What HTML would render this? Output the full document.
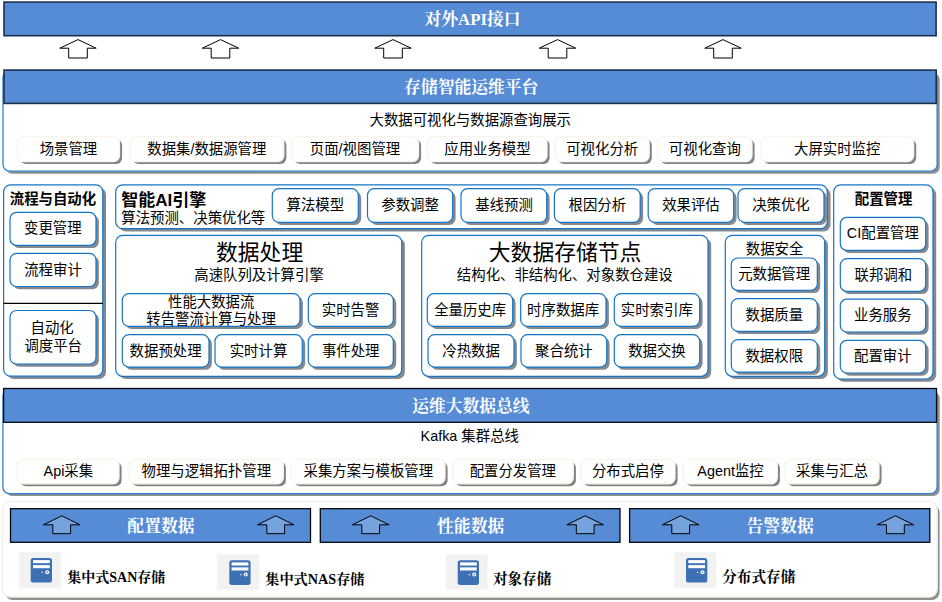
<!DOCTYPE html>
<html lang="zh-CN"><head><meta charset="utf-8"><title>存储智能运维平台架构</title>
<style>
html,body{margin:0;padding:0;background:#fff}
body{width:942px;height:602px;overflow:hidden;font-family:"Liberation Sans","Noto Sans CJK SC",sans-serif}
#d{position:relative;width:942px;height:602px;overflow:hidden}
#d svg{position:absolute;left:0;top:0;display:block}
text.s{font-family:"Liberation Sans","Noto Sans CJK SC",sans-serif;font-size:14.4px;fill:#000}
text.sb{font-family:"Liberation Sans","Noto Sans CJK SC",sans-serif;font-size:14.4px;font-weight:bold;fill:#000}
text.h{font-family:"Liberation Serif","Noto Serif CJK SC",serif;font-size:16.8px;font-weight:bold;fill:#fff}
text.b{font-family:"Liberation Serif","Noto Serif CJK SC",serif;font-weight:bold;fill:#000}
text.l{font-family:"Liberation Sans","Noto Sans CJK SC",sans-serif;font-size:21.8px;fill:#000}
</style></head><body>
<div id="d">
<svg width="942" height="602" viewBox="0 0 942 602">
<rect x="4.00" y="2.10" width="932.10" height="33.60" fill="#558cd5" stroke="#1c2f4d" stroke-width="1.6"/>
<text class="h" x="424.55" y="24.58">对外API接口</text>
<polygon points="78.00,39.60 96.20,48.20 87.30,48.20 87.30,58.00 68.70,58.00 68.70,48.20 59.80,48.20" fill="#fff" stroke="#000" stroke-width="1.00" stroke-linejoin="miter"/>
<polygon points="220.50,39.60 238.70,48.20 229.80,48.20 229.80,58.00 211.20,58.00 211.20,48.20 202.30,48.20" fill="#fff" stroke="#000" stroke-width="1.00" stroke-linejoin="miter"/>
<polygon points="393.00,39.60 411.20,48.20 402.30,48.20 402.30,58.00 383.70,58.00 383.70,48.20 374.80,48.20" fill="#fff" stroke="#000" stroke-width="1.00" stroke-linejoin="miter"/>
<polygon points="557.50,39.60 575.70,48.20 566.80,48.20 566.80,58.00 548.20,58.00 548.20,48.20 539.30,48.20" fill="#fff" stroke="#000" stroke-width="1.00" stroke-linejoin="miter"/>
<polygon points="723.00,39.60 741.20,48.20 732.30,48.20 732.30,58.00 713.70,58.00 713.70,48.20 704.80,48.20" fill="#fff" stroke="#000" stroke-width="1.00" stroke-linejoin="miter"/>
<rect x="5.60" y="73.00" width="934.10" height="100.70" rx="6.5" fill="#8f8f8f"/>
<rect x="3.00" y="70.50" width="934.10" height="100.70" rx="6.5" fill="#fff" stroke="#2f83cf" stroke-width="1.30"/>
<rect x="4.00" y="70.10" width="932.20" height="33.30" fill="#558cd5" stroke="#1c2f4d" stroke-width="1.6"/>
<text class="h" x="404.11" y="92.68">存储智能运维平台</text>
<text class="s" x="369.52" y="125.24">大数据可视化与数据源查询展示</text>
<rect x="20.10" y="139.20" width="102.00" height="24.90" rx="6.0" fill="#838383"/>
<rect x="17.50" y="136.70" width="102.00" height="24.90" rx="6.0" fill="#fff" stroke="#f7f5ec" stroke-width="1.30"/>
<text class="s" x="39.68" y="153.79">场景管理</text>
<rect x="132.60" y="139.20" width="153.80" height="24.90" rx="6.0" fill="#838383"/>
<rect x="130.00" y="136.70" width="153.80" height="24.90" rx="6.0" fill="#fff" stroke="#f7f5ec" stroke-width="1.30"/>
<text class="s" x="147.26" y="153.79">数据集/数据源管理</text>
<rect x="294.40" y="139.20" width="126.70" height="24.90" rx="6.0" fill="#838383"/>
<rect x="291.80" y="136.70" width="126.70" height="24.90" rx="6.0" fill="#fff" stroke="#f7f5ec" stroke-width="1.30"/>
<text class="s" x="309.83" y="153.79">页面/视图管理</text>
<rect x="430.30" y="139.20" width="119.30" height="24.90" rx="6.0" fill="#838383"/>
<rect x="427.70" y="136.70" width="119.30" height="24.90" rx="6.0" fill="#fff" stroke="#f7f5ec" stroke-width="1.30"/>
<text class="s" x="444.24" y="153.79">应用业务模型</text>
<rect x="558.00" y="139.20" width="93.80" height="24.90" rx="6.0" fill="#838383"/>
<rect x="555.40" y="136.70" width="93.80" height="24.90" rx="6.0" fill="#fff" stroke="#f7f5ec" stroke-width="1.30"/>
<text class="s" x="566.21" y="153.79">可视化分析</text>
<rect x="660.30" y="139.20" width="94.30" height="24.90" rx="6.0" fill="#838383"/>
<rect x="657.70" y="136.70" width="94.30" height="24.90" rx="6.0" fill="#fff" stroke="#f7f5ec" stroke-width="1.30"/>
<text class="s" x="668.87" y="153.79">可视化查询</text>
<rect x="763.60" y="139.20" width="152.60" height="24.90" rx="6.0" fill="#838383"/>
<rect x="761.00" y="136.70" width="152.60" height="24.90" rx="6.0" fill="#fff" stroke="#f7f5ec" stroke-width="1.30"/>
<text class="s" x="794.05" y="153.79">大屏实时监控</text>
<rect x="6.80" y="187.60" width="99.20" height="191.40" rx="7.0" fill="#85888e"/>
<rect x="3.60" y="184.80" width="99.20" height="191.40" rx="7.0" fill="#fff" stroke="#1475c6" stroke-width="1.20"/>
<text class="sb" x="9.78" y="203.57">流程与自动化</text>
<rect x="12.90" y="215.00" width="86.00" height="33.10" rx="6.5" fill="#85888e"/>
<rect x="10.00" y="212.30" width="86.00" height="33.10" rx="6.5" fill="#fff" stroke="#1475c6" stroke-width="1.20"/>
<text class="s" x="24.06" y="233.49">变更管理</text>
<rect x="12.90" y="256.10" width="86.00" height="33.10" rx="6.5" fill="#85888e"/>
<rect x="10.00" y="253.40" width="86.00" height="33.10" rx="6.5" fill="#fff" stroke="#1475c6" stroke-width="1.20"/>
<text class="s" x="24.21" y="274.59">流程审计</text>
<line x1="3.6" y1="303.4" x2="102.8" y2="303.4" stroke="#000" stroke-width="1.1"/>
<rect x="12.90" y="313.20" width="86.00" height="53.50" rx="6.5" fill="#85888e"/>
<rect x="10.00" y="310.50" width="86.00" height="53.50" rx="6.5" fill="#fff" stroke="#1475c6" stroke-width="1.20"/>
<text class="s" x="30.50" y="332.84">自动化</text>
<text class="s" x="24.43" y="350.84">调度平台</text>
<rect x="118.90" y="187.60" width="711.60" height="43.90" rx="7.0" fill="#85888e"/>
<rect x="115.70" y="184.80" width="711.60" height="43.90" rx="7.0" fill="#fff" stroke="#1475c6" stroke-width="1.20"/>
<text class="sb" x="121.30" y="206.00" style="font-size:17px">智能AI引擎</text>
<text class="s" x="121.30" y="222.84">算法预测、决策优化等</text>
<rect x="275.20" y="191.40" width="86.00" height="33.60" rx="6.5" fill="#85888e"/>
<rect x="272.30" y="188.70" width="86.00" height="33.60" rx="6.5" fill="#fff" stroke="#1475c6" stroke-width="1.20"/>
<text class="s" x="286.59" y="210.14">算法模型</text>
<rect x="370.40" y="191.40" width="85.20" height="33.60" rx="6.5" fill="#85888e"/>
<rect x="367.50" y="188.70" width="85.20" height="33.60" rx="6.5" fill="#fff" stroke="#1475c6" stroke-width="1.20"/>
<text class="s" x="381.29" y="210.14">参数调整</text>
<rect x="463.90" y="191.40" width="85.70" height="33.60" rx="6.5" fill="#85888e"/>
<rect x="461.00" y="188.70" width="85.70" height="33.60" rx="6.5" fill="#fff" stroke="#1475c6" stroke-width="1.20"/>
<text class="s" x="475.30" y="210.14">基线预测</text>
<rect x="557.30" y="191.40" width="85.80" height="33.60" rx="6.5" fill="#85888e"/>
<rect x="554.40" y="188.70" width="85.80" height="33.60" rx="6.5" fill="#fff" stroke="#1475c6" stroke-width="1.20"/>
<text class="s" x="568.56" y="210.14">根因分析</text>
<rect x="651.10" y="191.40" width="85.50" height="33.60" rx="6.5" fill="#85888e"/>
<rect x="648.20" y="188.70" width="85.50" height="33.60" rx="6.5" fill="#fff" stroke="#1475c6" stroke-width="1.20"/>
<text class="s" x="662.19" y="210.14">效果评估</text>
<rect x="740.90" y="191.40" width="86.00" height="33.60" rx="6.5" fill="#85888e"/>
<rect x="738.00" y="188.70" width="86.00" height="33.60" rx="6.5" fill="#fff" stroke="#1475c6" stroke-width="1.20"/>
<text class="s" x="752.20" y="210.14">决策优化</text>
<rect x="118.90" y="238.10" width="286.00" height="141.00" rx="7.0" fill="#85888e"/>
<rect x="115.70" y="235.30" width="286.00" height="141.00" rx="7.0" fill="#fff" stroke="#1475c6" stroke-width="1.20"/>
<text class="l" x="216.02" y="259.98">数据处理</text>
<text class="s" x="194.26" y="280.44">高速队列及计算引擎</text>
<rect x="125.20" y="296.40" width="177.70" height="32.60" rx="6.5" fill="#85888e"/>
<rect x="122.30" y="293.70" width="177.70" height="32.60" rx="6.5" fill="#fff" stroke="#1475c6" stroke-width="1.20"/>
<text class="s" x="168.01" y="306.84">性能大数据流</text>
<text class="s" x="146.30" y="324.24">转告警流计算与处理</text>
<rect x="311.20" y="296.40" width="85.00" height="32.60" rx="6.5" fill="#85888e"/>
<rect x="308.30" y="293.70" width="85.00" height="32.60" rx="6.5" fill="#fff" stroke="#1475c6" stroke-width="1.20"/>
<text class="s" x="321.77" y="314.64">实时告警</text>
<rect x="125.20" y="337.40" width="86.70" height="32.40" rx="6.5" fill="#85888e"/>
<rect x="122.30" y="334.70" width="86.70" height="32.40" rx="6.5" fill="#fff" stroke="#1475c6" stroke-width="1.20"/>
<text class="s" x="129.61" y="355.54">数据预处理</text>
<rect x="217.90" y="337.40" width="87.30" height="32.40" rx="6.5" fill="#85888e"/>
<rect x="215.00" y="334.70" width="87.30" height="32.40" rx="6.5" fill="#fff" stroke="#1475c6" stroke-width="1.20"/>
<text class="s" x="229.71" y="355.54">实时计算</text>
<rect x="311.20" y="337.40" width="85.00" height="32.40" rx="6.5" fill="#85888e"/>
<rect x="308.30" y="334.70" width="85.00" height="32.40" rx="6.5" fill="#fff" stroke="#1475c6" stroke-width="1.20"/>
<text class="s" x="321.89" y="355.54">事件处理</text>
<rect x="424.90" y="238.10" width="286.30" height="141.00" rx="7.0" fill="#85888e"/>
<rect x="421.70" y="235.30" width="286.30" height="141.00" rx="7.0" fill="#fff" stroke="#1475c6" stroke-width="1.20"/>
<text class="l" x="488.79" y="260.18">大数据存储节点</text>
<text class="s" x="456.85" y="280.44">结构化、非结构化、对象数仓建设</text>
<rect x="430.20" y="296.40" width="85.40" height="32.60" rx="6.5" fill="#85888e"/>
<rect x="427.30" y="293.70" width="85.40" height="32.60" rx="6.5" fill="#fff" stroke="#1475c6" stroke-width="1.20"/>
<text class="s" x="434.14" y="314.64">全量历史库</text>
<rect x="523.60" y="296.40" width="85.30" height="32.60" rx="6.5" fill="#85888e"/>
<rect x="520.70" y="293.70" width="85.30" height="32.60" rx="6.5" fill="#fff" stroke="#1475c6" stroke-width="1.20"/>
<text class="s" x="527.10" y="314.64">时序数据库</text>
<rect x="617.20" y="296.40" width="85.40" height="32.60" rx="6.5" fill="#85888e"/>
<rect x="614.30" y="293.70" width="85.40" height="32.60" rx="6.5" fill="#fff" stroke="#1475c6" stroke-width="1.20"/>
<text class="s" x="620.82" y="314.64">实时索引库</text>
<rect x="430.90" y="337.40" width="86.00" height="32.40" rx="6.5" fill="#85888e"/>
<rect x="428.00" y="334.70" width="86.00" height="32.40" rx="6.5" fill="#fff" stroke="#1475c6" stroke-width="1.20"/>
<text class="s" x="442.24" y="355.54">冷热数据</text>
<rect x="523.90" y="337.40" width="85.70" height="32.40" rx="6.5" fill="#85888e"/>
<rect x="521.00" y="334.70" width="85.70" height="32.40" rx="6.5" fill="#fff" stroke="#1475c6" stroke-width="1.20"/>
<text class="s" x="535.11" y="355.54">聚合统计</text>
<rect x="617.20" y="337.40" width="85.40" height="32.40" rx="6.5" fill="#85888e"/>
<rect x="614.30" y="334.70" width="85.40" height="32.40" rx="6.5" fill="#fff" stroke="#1475c6" stroke-width="1.20"/>
<text class="s" x="628.14" y="355.54">数据交换</text>
<rect x="728.50" y="238.10" width="99.40" height="141.00" rx="7.0" fill="#85888e"/>
<rect x="725.30" y="235.30" width="99.40" height="141.00" rx="7.0" fill="#fff" stroke="#1475c6" stroke-width="1.20"/>
<text class="s" x="745.78" y="253.84">数据安全</text>
<rect x="734.20" y="260.70" width="86.00" height="32.40" rx="6.5" fill="#85888e"/>
<rect x="731.30" y="258.00" width="86.00" height="32.40" rx="6.5" fill="#fff" stroke="#1475c6" stroke-width="1.20"/>
<text class="s" x="738.19" y="278.84">元数据管理</text>
<rect x="734.20" y="301.40" width="86.00" height="32.60" rx="6.5" fill="#85888e"/>
<rect x="731.30" y="298.70" width="86.00" height="32.60" rx="6.5" fill="#fff" stroke="#1475c6" stroke-width="1.20"/>
<text class="s" x="745.54" y="319.64">数据质量</text>
<rect x="734.20" y="342.40" width="86.00" height="32.40" rx="6.5" fill="#85888e"/>
<rect x="731.30" y="339.70" width="86.00" height="32.40" rx="6.5" fill="#fff" stroke="#1475c6" stroke-width="1.20"/>
<text class="s" x="745.47" y="360.54">数据权限</text>
<rect x="836.90" y="187.60" width="99.30" height="194.20" rx="7.0" fill="#85888e"/>
<rect x="833.70" y="184.80" width="99.30" height="194.20" rx="7.0" fill="#fff" stroke="#1475c6" stroke-width="1.20"/>
<text class="sb" x="854.78" y="203.77">配置管理</text>
<rect x="843.20" y="220.00" width="85.40" height="33.10" rx="6.5" fill="#85888e"/>
<rect x="840.30" y="217.30" width="85.40" height="33.10" rx="6.5" fill="#fff" stroke="#1475c6" stroke-width="1.20"/>
<text class="s" x="846.87" y="238.49">CI配置管理</text>
<rect x="843.20" y="261.40" width="85.40" height="32.70" rx="6.5" fill="#85888e"/>
<rect x="840.30" y="258.70" width="85.40" height="32.70" rx="6.5" fill="#fff" stroke="#1475c6" stroke-width="1.20"/>
<text class="s" x="854.62" y="279.69">联邦调和</text>
<rect x="843.20" y="301.80" width="85.40" height="32.90" rx="6.5" fill="#85888e"/>
<rect x="840.30" y="299.10" width="85.40" height="32.90" rx="6.5" fill="#fff" stroke="#1475c6" stroke-width="1.20"/>
<text class="s" x="854.05" y="320.19">业务服务</text>
<rect x="843.20" y="343.00" width="85.40" height="32.70" rx="6.5" fill="#85888e"/>
<rect x="840.30" y="340.30" width="85.40" height="32.70" rx="6.5" fill="#fff" stroke="#1475c6" stroke-width="1.20"/>
<text class="s" x="854.08" y="361.29">配置审计</text>
<rect x="5.50" y="391.80" width="934.20" height="104.20" rx="6.5" fill="#8f8f8f"/>
<rect x="2.90" y="389.40" width="934.20" height="104.20" rx="6.5" fill="#fff" stroke="#2f83cf" stroke-width="1.30"/>
<rect x="3.60" y="388.50" width="932.90" height="33.80" fill="#558cd5" stroke="#05080f" stroke-width="1.3"/>
<text class="h" x="412.13" y="411.58">运维大数据总线</text>
<text class="s" x="420.56" y="440.94">Kafka 集群总线</text>
<rect x="19.90" y="461.80" width="101.70" height="24.50" rx="6.0" fill="#838383"/>
<rect x="17.30" y="459.30" width="101.70" height="24.50" rx="6.0" fill="#fff" stroke="#f7f5ec" stroke-width="1.30"/>
<text class="s" x="43.56" y="476.19">Api采集</text>
<rect x="131.90" y="461.80" width="154.00" height="24.50" rx="6.0" fill="#838383"/>
<rect x="129.30" y="459.30" width="154.00" height="24.50" rx="6.0" fill="#fff" stroke="#f7f5ec" stroke-width="1.30"/>
<text class="s" x="141.53" y="476.19">物理与逻辑拓扑管理</text>
<rect x="294.30" y="461.80" width="153.30" height="24.50" rx="6.0" fill="#838383"/>
<rect x="291.70" y="459.30" width="153.30" height="24.50" rx="6.0" fill="#fff" stroke="#f7f5ec" stroke-width="1.30"/>
<text class="s" x="303.54" y="476.19">采集方案与模板管理</text>
<rect x="455.30" y="461.80" width="120.60" height="24.50" rx="6.0" fill="#838383"/>
<rect x="452.70" y="459.30" width="120.60" height="24.50" rx="6.0" fill="#fff" stroke="#f7f5ec" stroke-width="1.30"/>
<text class="s" x="469.63" y="476.19">配置分发管理</text>
<rect x="583.30" y="461.80" width="94.30" height="24.50" rx="6.0" fill="#838383"/>
<rect x="580.70" y="459.30" width="94.30" height="24.50" rx="6.0" fill="#fff" stroke="#f7f5ec" stroke-width="1.30"/>
<text class="s" x="591.89" y="476.19">分布式启停</text>
<rect x="685.90" y="461.80" width="94.00" height="24.50" rx="6.0" fill="#838383"/>
<rect x="683.30" y="459.30" width="94.00" height="24.50" rx="6.0" fill="#fff" stroke="#f7f5ec" stroke-width="1.30"/>
<text class="s" x="697.33" y="476.19">Agent监控</text>
<rect x="787.60" y="461.80" width="94.00" height="24.50" rx="6.0" fill="#838383"/>
<rect x="785.00" y="459.30" width="94.00" height="24.50" rx="6.0" fill="#fff" stroke="#f7f5ec" stroke-width="1.30"/>
<text class="s" x="796.06" y="476.19">采集与汇总</text>
<rect x="4.90" y="504.60" width="934.70" height="95.40" rx="8.0" fill="#8f8f8f"/>
<rect x="2.50" y="501.60" width="934.70" height="95.40" rx="8.0" fill="#fff" stroke="#f3f0e8" stroke-width="1.50"/>
<rect x="10.50" y="508.70" width="300.00" height="33.60" fill="#558cd5" stroke="#05080f" stroke-width="1.3"/>
<text class="h" x="127.37" y="531.78">配置数据</text>
<polygon points="61.70,515.80 80.00,524.80 70.60,524.80 70.60,533.70 52.80,533.70 52.80,524.80 43.40,524.80" fill="#74a3de" stroke="#000" stroke-width="1.00" stroke-linejoin="miter"/>
<polygon points="275.70,515.80 294.00,524.80 284.60,524.80 284.60,533.70 266.80,533.70 266.80,524.80 257.40,524.80" fill="#74a3de" stroke="#000" stroke-width="1.00" stroke-linejoin="miter"/>
<rect x="320.30" y="508.70" width="299.70" height="33.60" fill="#558cd5" stroke="#05080f" stroke-width="1.3"/>
<text class="h" x="437.08" y="531.78">性能数据</text>
<polygon points="370.70,515.80 389.00,524.80 379.60,524.80 379.60,533.70 361.80,533.70 361.80,524.80 352.40,524.80" fill="#74a3de" stroke="#000" stroke-width="1.00" stroke-linejoin="miter"/>
<polygon points="585.20,515.80 603.50,524.80 594.10,524.80 594.10,533.70 576.30,533.70 576.30,524.80 566.90,524.80" fill="#74a3de" stroke="#000" stroke-width="1.00" stroke-linejoin="miter"/>
<rect x="629.60" y="508.70" width="300.20" height="33.60" fill="#558cd5" stroke="#05080f" stroke-width="1.3"/>
<text class="h" x="746.54" y="531.78">告警数据</text>
<polygon points="680.70,515.80 699.00,524.80 689.60,524.80 689.60,533.70 671.80,533.70 671.80,524.80 662.40,524.80" fill="#74a3de" stroke="#000" stroke-width="1.00" stroke-linejoin="miter"/>
<polygon points="895.40,515.80 913.70,524.80 904.30,524.80 904.30,533.70 886.50,533.70 886.50,524.80 877.10,524.80" fill="#74a3de" stroke="#000" stroke-width="1.00" stroke-linejoin="miter"/>
<rect x="19.0" y="552.2" width="42" height="35.4" fill="#f2f2f2"/>
<rect x="30.7" y="558.0" width="21.3" height="24.6" rx="2.6" fill="#3e70b4"/>
<rect x="33.0" y="560.1" width="16.8" height="3.1" fill="#fff"/>
<rect x="33.0" y="565.1" width="16.8" height="3.1" fill="#fff"/>
<circle cx="42.3" cy="572.3" r="0.8" fill="#dfe8f4"/>
<circle cx="47.2" cy="572.3" r="2" fill="#fff"/>
<circle cx="47.2" cy="572.3" r="0.8" fill="#3e70b4"/>
<rect x="217.3" y="554.3" width="42" height="35.4" fill="#f2f2f2"/>
<rect x="229.3" y="560.3" width="21.3" height="24.6" rx="2.6" fill="#3e70b4"/>
<rect x="231.6" y="562.4" width="16.8" height="3.1" fill="#fff"/>
<rect x="231.6" y="567.4" width="16.8" height="3.1" fill="#fff"/>
<circle cx="240.9" cy="574.6" r="0.8" fill="#dfe8f4"/>
<circle cx="245.8" cy="574.6" r="2" fill="#fff"/>
<circle cx="245.8" cy="574.6" r="0.8" fill="#3e70b4"/>
<rect x="445.6" y="554.3" width="42" height="35.4" fill="#f2f2f2"/>
<rect x="457.7" y="560.3" width="21.3" height="24.6" rx="2.6" fill="#3e70b4"/>
<rect x="460.0" y="562.4" width="16.8" height="3.1" fill="#fff"/>
<rect x="460.0" y="567.4" width="16.8" height="3.1" fill="#fff"/>
<circle cx="469.3" cy="574.6" r="0.8" fill="#dfe8f4"/>
<circle cx="474.2" cy="574.6" r="2" fill="#fff"/>
<circle cx="474.2" cy="574.6" r="0.8" fill="#3e70b4"/>
<rect x="674.4" y="552.2" width="42" height="35.4" fill="#f2f2f2"/>
<rect x="686.0" y="558.0" width="21.3" height="24.6" rx="2.6" fill="#3e70b4"/>
<rect x="688.3" y="560.1" width="16.8" height="3.1" fill="#fff"/>
<rect x="688.3" y="565.1" width="16.8" height="3.1" fill="#fff"/>
<circle cx="697.6" cy="572.3" r="0.8" fill="#dfe8f4"/>
<circle cx="702.5" cy="572.3" r="2" fill="#fff"/>
<circle cx="702.5" cy="572.3" r="0.8" fill="#3e70b4"/>
<text class="b" x="67.24" y="581.55" font-size="14">集中式SAN存储</text>
<text class="b" x="265.23" y="583.55" font-size="14.2">集中式NAS存储</text>
<text class="b" x="492.91" y="583.55" font-size="14.6">对象存储</text>
<text class="b" x="722.28" y="581.55" font-size="14.6">分布式存储</text>
</svg>
</div>
</body></html>
